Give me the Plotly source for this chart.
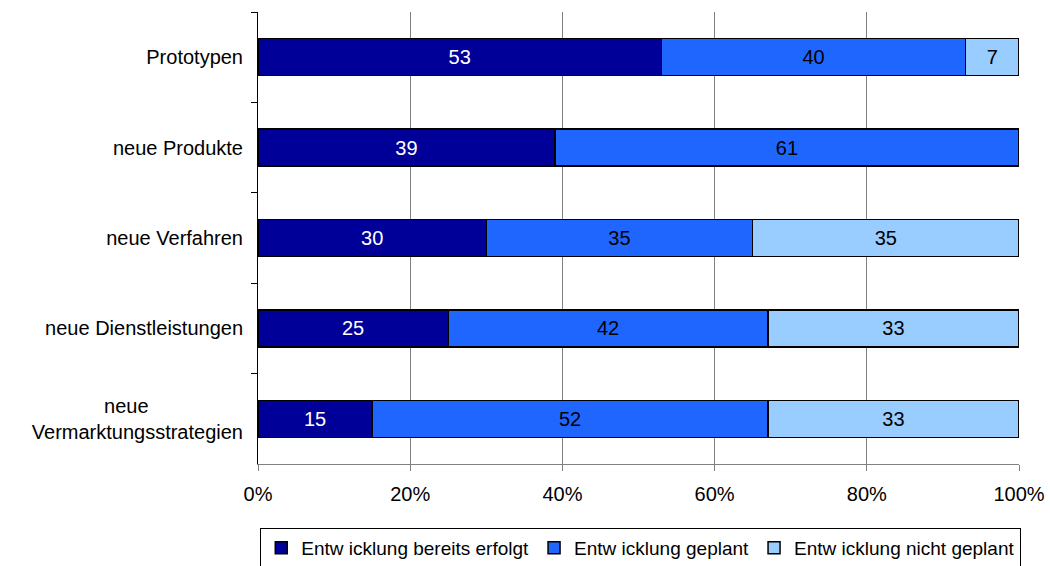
import plotly.graph_objects as go

categories = ["Prototypen", "neue Produkte", "neue Verfahren", "neue Dienstleistungen",
              "neue" + "\u00a0" * 17 + "<br>Vermarktungsstrategien"]
bereits_erfolgt = [53, 39, 30, 25, 15]
geplant = [40, 61, 35, 42, 52]
nicht_geplant = [7, 0, 35, 33, 33]

series = [
    ("Entw icklung bereits erfolgt", bereits_erfolgt, "#000099", "white"),
    ("Entw icklung geplant", geplant, "#1F66FF", "black"),
    ("Entw icklung nicht geplant", nicht_geplant, "#99CCFF", "black"),
]

font = "Liberation Sans, Arial, sans-serif"
fig = go.Figure()
for name, vals, color, tcol in series:
    fig.add_trace(go.Bar(
        y=categories, x=vals, name=name, orientation="h",
        marker=dict(color=color, line=dict(color="black", width=1.5)),
        text=[str(v) if v else "" for v in vals],
        textposition="inside", insidetextanchor="middle",
        textfont=dict(color=tcol, size=20, family=font),
        constraintext="none",
    ))

fig.update_layout(
    barmode="stack", bargap=0.59,
    width=1050, height=566,
    margin=dict(l=258, r=31, t=12, b=102, autoexpand=False),
    plot_bgcolor="white", paper_bgcolor="white",
    font=dict(family=font, size=20, color="black"),
    showlegend=True,
    legend=dict(orientation="h", x=0.503, xanchor="center", y=-0.1416, yanchor="top",
                bordercolor="black", borderwidth=1, font=dict(size=19),
                itemwidth=30, traceorder="normal", tracegroupgap=0),
    xaxis=dict(range=[0, 100], tickvals=[0, 20, 40, 60, 80, 100],
               ticktext=["0%", "20%", "40%", "60%", "80%", "100%"],
               showgrid=True, gridcolor="#808080", gridwidth=1,
               showline=True, linecolor="#808080", linewidth=1,
               ticks="outside", ticklen=6, tickcolor="#808080",
               ticklabelstandoff=6, zeroline=False, fixedrange=True),
    yaxis=dict(categoryorder="array", categoryarray=categories, autorange="reversed",
               showline=True, linecolor="black", linewidth=1,
               ticks="outside", ticklen=6, tickcolor="black", tickson="boundaries",
               ticklabelstandoff=10, showgrid=False),
)

fig.write_html("out.html")
